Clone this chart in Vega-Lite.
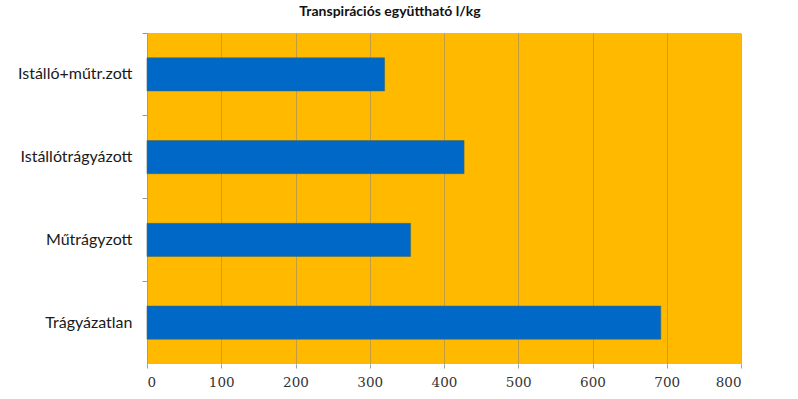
{
  "$schema": "https://vega.github.io/schema/vega-lite/v6.json",
  "autosize": "none",
  "width": 594,
  "height": 331,
  "padding": {"left": 147, "top": 33, "right": 57, "bottom": 35},
  "background": "white",
  "title": {
    "text": "Transpirációs együttható l/kg",
    "font": "Lato",
    "fontSize": 14,
    "fontWeight": "bold",
    "color": "#111111",
    "anchor": "middle",
    "dx": -54,
    "baseline": "alphabetic",
    "offset": 3
  },
  "config": {
    "view": {"fill": "#FFBA00", "stroke": null}
  },
  "data": {
    "values": [
      {"kat": "Istálló+műtr.zott", "ertek": 320},
      {"kat": "Istállótrágyázott", "ertek": 427},
      {"kat": "Műtrágyzott", "ertek": 355},
      {"kat": "Trágyázatlan", "ertek": 692}
    ]
  },
  "mark": {"type": "bar", "color": "#0068C6", "stroke": "#4a6a60", "strokeWidth": 0.6},
  "encoding": {
    "y": {
      "field": "kat",
      "type": "nominal",
      "sort": null,
      "scale": {"paddingInner": 0.6, "paddingOuter": 0.3},
      "axis": {
        "title": null,
        "orient": "left",
        "domain": false,
        "ticks": true,
        "tickSize": 5,
        "tickColor": "#9a9a9a",
        "bandPosition": -0.75,
        "labelFont": "Lato",
        "labelFontSize": 16,
        "labelColor": "#1a1a1a",
        "labelPadding": 10
      }
    },
    "x": {
      "field": "ertek",
      "type": "quantitative",
      "scale": {"domain": [0, 800], "nice": false},
      "axis": {
        "title": null,
        "values": [0, 100, 200, 300, 400, 500, 600, 700, 800],
        "domain": false,
        "grid": true,
        "gridColor": "#a8905a",
        "gridOpacity": 0.7,
        "gridWidth": 1,
        "tickColor": "#a0a0a0",
        "tickSize": 4,
        "labelFont": "DejaVu Serif",
        "labelFontSize": 13.5,
        "labelColor": "#333333",
        "labelPadding": 7
      }
    }
  }
}
